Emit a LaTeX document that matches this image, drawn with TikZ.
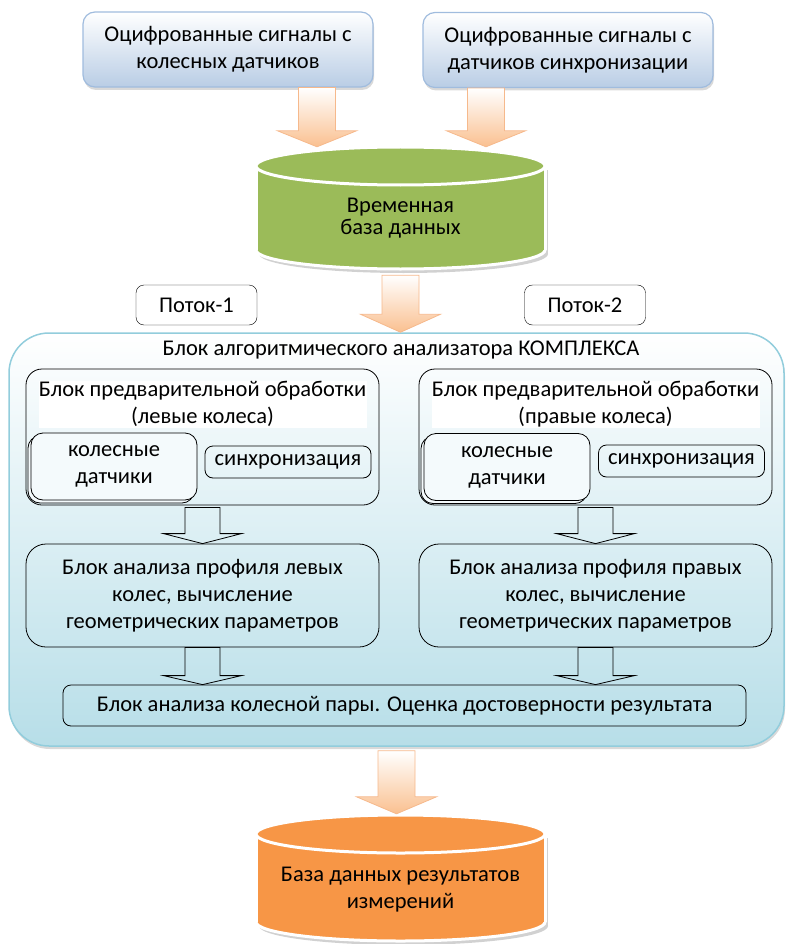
\documentclass[tikz,border=0pt]{standalone}
\usepackage{fontspec}
\setmainfont{Carlito}
\usetikzlibrary{calc,shadows}
\definecolor{sigfill}{RGB}{185,205,229}
\definecolor{sigline}{RGB}{160,188,222}
\definecolor{peach}{RGB}{250,192,144}
\definecolor{peachline}{RGB}{246,185,140}
\definecolor{dbgreen}{RGB}{155,187,89}
\definecolor{dborange}{RGB}{247,150,70}
\definecolor{algofill}{RGB}{183,222,232}
\definecolor{algoline}{RGB}{146,205,220}
% block arrow: style, from, to, shaft half width, head half width, head length
\newcommand{\fatarrow}[6]{\path[#1] let \p1=(#2), \p2=(#3) in
  (\x1-#4,\y1) -- (\x1+#4,\y1) -- (\x1+#4,\y2+#6) -- (\x1+#5,\y2+#6)
  -- (\x1,\y2) -- (\x1-#5,\y2+#6) -- (\x1-#4,\y2+#6) -- cycle;}

\begin{document}
\begin{tikzpicture}[x=1pt,y=-1pt,
  every node/.style={font=\fontsize{22.5}{27}\selectfont, align=center, inner sep=0pt},
  sigbox/.style={draw=sigline, line width=1.2pt, rounded corners=12pt, top color=white, bottom color=sigfill,
    minimum width=290pt, minimum height=75pt, drop shadow={opacity=0.3, shadow xshift=1pt, shadow yshift=-3pt}},
  flowbox/.style={draw, rounded corners=8pt, fill=white, minimum width=121pt, minimum height=40pt},
  algobox/.style={draw=algoline, line width=1.5pt, rounded corners=40pt, top color=white, bottom color=algofill,
    minimum width=775pt, minimum height=413pt, drop shadow={opacity=0.3, shadow xshift=1pt, shadow yshift=-3pt}},
  prepbox/.style={draw, line width=0.8pt, rounded corners=16pt, minimum width=353pt, minimum height=136pt},
  whlbox/.style={draw, line width=0.8pt, rounded corners=12pt, fill=algofill!15, minimum width=166pt, minimum height=67pt,
    copy shadow={shadow xshift=-3pt, shadow yshift=-3pt}},
  syncbox/.style={draw, line width=0.8pt, rounded corners=8pt, minimum width=166pt, minimum height=32pt},
  anabox/.style={draw, line width=0.8pt, rounded corners=20pt, minimum width=353pt, minimum height=103pt},
  peacharrow/.style={draw=peachline, line width=0.8pt, top color=white, bottom color=peach},
  hollowarrow/.style={draw, line width=0.8pt}]
\useasboundingbox (0,0) rectangle (787,944);

% cylinders
\foreach \ya/\yb/\col in {166/250/dbgreen,834/922/dborange}{
  \fill[black!18] (403.5,{\yb+4}) ellipse (144.5 and 19);
  \fill[black!18] (259,{\ya+4}) rectangle (548,{\yb+4});
  \filldraw[fill=\col, draw=white, line width=3pt] (400.5,\yb) ellipse (144.5 and 19);
  \fill[\col] (256,\ya) rectangle (545,\yb);
  \draw[white, line width=3pt] (256,\ya) -- (256,\yb) (545,\ya) -- (545,\yb);
  \filldraw[fill=\col, draw=white, line width=3pt] (400.5,\ya) ellipse (144.5 and 19);
}

\node[sigbox] (sigW) at (228,49.5) {Оцифрованные сигналы с\\колесных датчиков};
\node[sigbox] (sigS) at (568,50) {Оцифрованные сигналы с\\датчиков синхронизации};
\node[minimum width=289pt, minimum height=142pt, font=\fontsize{22.5}{22}\selectfont] (tmpdb) at (400.5,218) {Временная\\база данных};

\node[flowbox] (flow1) at (196.5,305) {Поток-1};
\node[flowbox] (flow2) at (585,305) {Поток-2};

\node[algobox] (algo) at (396.5,539.5) {};
\node (algotitle) at (401,350) {Блок алгоритмического анализатора КОМПЛЕКСА};

% left wheels
\node[prepbox] (prepL) at (202.5,437) {};
\node[fill=white, minimum width=328pt, minimum height=47pt] (prepLt) at (202.5,404) {Блок предварительной обработки\\(левые колеса)};
\node[whlbox] (whlL) at (114,466.5) {колесные\\датчики};
\node[syncbox] (syncL) at (288,462) {синхронизация};
\node[anabox] (anaL) at (202.5,595.5) {Блок анализа профиля левых\\колес, вычисление\\геометрических параметров};

% right wheels
\node[prepbox] (prepR) at (595.5,437) {};
\node[fill=white, minimum width=328pt, minimum height=47pt] (prepRt) at (595.5,404) {Блок предварительной обработки\\(правые колеса)};
\node[whlbox] (whlR) at (507,467) {колесные\\датчики};
\node[syncbox] (syncR) at (681.5,461) {синхронизация};
\node[anabox] (anaR) at (595.5,595.5) {Блок анализа профиля правых\\колес, вычисление\\геометрических параметров};

\node[draw, line width=0.8pt, rounded corners=8pt, minimum width=683pt, minimum height=41pt] (pair) at (404.5,705.5)
  {Блок анализа колесной пары. Оценка достоверности результата};

\node[minimum width=289pt, minimum height=152pt] (resdb) at (400.5,890) {База данных результатов\\измерений};

% arrows
\fatarrow{peacharrow}{317,0 |- sigW.south}{317,0 |- tmpdb.north}{18.5pt}{39.5pt}{16pt}
\fatarrow{peacharrow}{486,0 |- sigS.south}{486,0 |- tmpdb.north}{18.5pt}{39.5pt}{16pt}
\fatarrow{peacharrow}{[yshift=14pt]tmpdb.south}{algo.north}{18.5pt}{40pt}{18pt}
\fatarrow{peacharrow}{[yshift=-4pt]algo.south}{resdb.north}{18.5pt}{40pt}{17pt}
\fatarrow{hollowarrow}{[yshift=-2pt]prepL.south}{anaL.north}{17.5pt}{39pt}{10pt}
\fatarrow{hollowarrow}{[yshift=-2pt]prepR.south}{anaR.north}{17.5pt}{39pt}{10pt}
\fatarrow{hollowarrow}{anaL.south}{anaL.south |- pair.north}{17.5pt}{39pt}{9pt}
\fatarrow{hollowarrow}{anaR.south}{anaR.south |- pair.north}{17.5pt}{39pt}{9pt}
\end{tikzpicture}
\end{document}
